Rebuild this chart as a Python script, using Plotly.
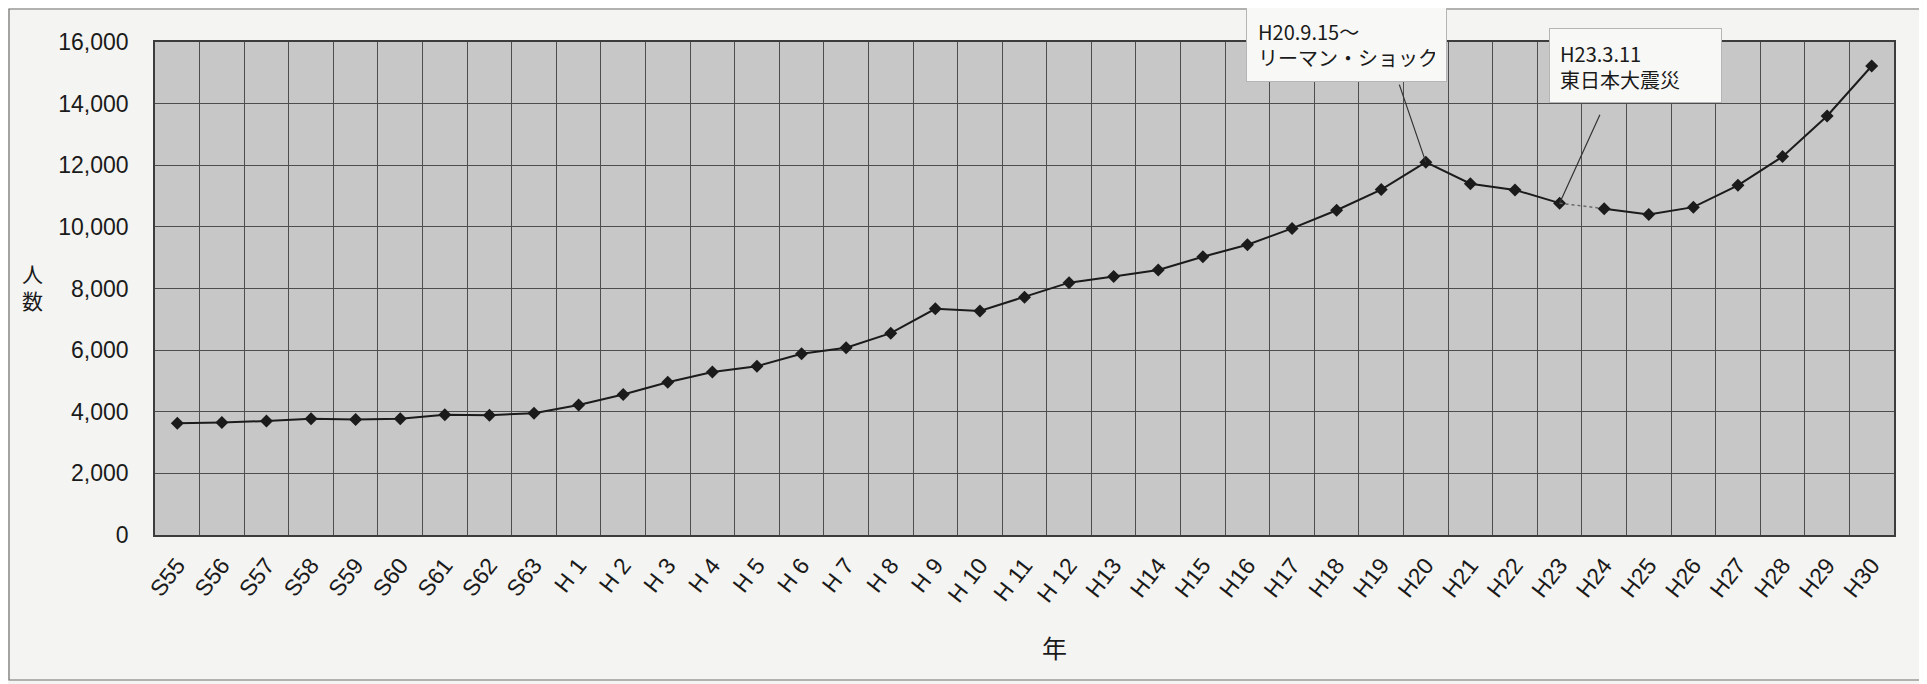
import plotly.graph_objects as go

# ---- data ----
categories = ["S55", "S56", "S57", "S58", "S59", "S60", "S61", "S62", "S63",
              "H 1", "H 2", "H 3", "H 4", "H 5", "H 6", "H 7", "H 8", "H 9",
              "H 10", "H 11", "H 12", "H13", "H14", "H15", "H16", "H17", "H18",
              "H19", "H20", "H21", "H22", "H23", "H24", "H25", "H26", "H27",
              "H28", "H29", "H30"]
counts = [3630, 3650, 3700, 3770, 3750, 3770, 3900, 3890, 3950,
          4220, 4560, 4960, 5290, 5480, 5880, 6080, 6550, 7340,
          7270, 7720, 8190, 8390, 8600, 9030, 9420, 9950, 10540,
          11210, 12100, 11400, 11200, 10770, 10590, 10400, 10640, 11350,
          12280, 13600, 15220]
y_ticks = [0, 2000, 4000, 6000, 8000, 10000, 12000, 14000, 16000]
event_lehman_year = "H20"
event_lehman_text = "H20.9.15～<br>リーマン・ショック"
event_quake_year = "H23"
event_quake_text = "H23.3.11<br>東日本大震災"
x_title = "年"
y_title = "人<br>数"

# ---- figure ----
i_q = categories.index(event_quake_year)
i_l = categories.index(event_lehman_year)

OFF = 8  # default page body margin
L, T, PW, PH = 155 - OFF, 42 - OFF, 1739, 493

line_col = "#1b1b1b"
fig = go.Figure()
fig.add_trace(go.Scatter(
    x=categories[:i_q + 1], y=counts[:i_q + 1], mode="lines+markers",
    line=dict(color=line_col, width=2),
    marker=dict(symbol="diamond", size=10, color=line_col),
    showlegend=False))
fig.add_trace(go.Scatter(
    x=categories[i_q:i_q + 2], y=counts[i_q:i_q + 2], mode="lines",
    line=dict(color="#6a6a6a", width=1.5, dash="dot"),
    showlegend=False))
fig.add_trace(go.Scatter(
    x=categories[i_q + 1:], y=counts[i_q + 1:], mode="lines+markers",
    line=dict(color=line_col, width=2),
    marker=dict(symbol="diamond", size=10, color=line_col),
    showlegend=False))

tick_font = dict(family="Liberation Sans, Arial, sans-serif", size=23, color="#1a1a1a")
cjk = "Noto Sans CJK JP, sans-serif"

W, H = 1927 - OFF, 684 - OFF
fig.update_layout(
    width=W, height=H, autosize=False,
    margin=dict(l=L, r=W - L - PW, t=T, b=H - T - PH),
    paper_bgcolor="#f4f4f2", plot_bgcolor="#c7c7c7",
    xaxis=dict(
        type="category", categoryorder="array", categoryarray=categories,
        range=[-0.5, len(categories) - 0.5],
        tickson="boundaries", ticks="", showgrid=True,
        gridcolor="#4d4d4d", gridwidth=1.2,
        showline=True, linecolor="#3c3c3c", linewidth=1.5, mirror=True,
        tickangle=-52, tickfont=dict(family="Liberation Sans, Arial, sans-serif", size=23, color="#1a1a1a"),
        ticklabelstandoff=6, zeroline=False),
    yaxis=dict(
        range=[0, 16000], tickvals=y_ticks, tickformat=",d", ticks="",
        showgrid=True, gridcolor="#4d4d4d", gridwidth=1.2,
        showline=True, linecolor="#3c3c3c", linewidth=1.5, mirror=True,
        tickfont=tick_font, ticklabelstandoff=20, zeroline=False),
    font=dict(family=cjk),
)

def px(xp):
    return (xp - OFF - L) / PW

def py(yp):
    return (T + PH - (yp - OFF)) / PH

# outer frame
fig.add_shape(type="rect", xref="paper", yref="paper",
              x0=px(9), x1=px(1925), y0=py(680), y1=py(9),
              line=dict(color="#6e6e6e", width=1.2), fillcolor="rgba(0,0,0,0)", layer="below")

# axis titles
fig.add_annotation(text=x_title, xref="paper", yref="paper", x=px(1054), y=py(647),
                   xanchor="center", yanchor="middle",
                   showarrow=False, font=dict(family=cjk, size=25, color="#1a1a1a"))
fig.add_annotation(text=y_title, xref="paper", yref="paper", x=px(33), y=py(286),
                   xanchor="center", yanchor="middle",
                   showarrow=False, font=dict(family=cjk, size=21, color="#1a1a1a"))

# event callouts: pointer lines
fig.add_annotation(x=categories[i_l], y=counts[i_l], text="", showarrow=True,
                   arrowhead=0, arrowwidth=1.2, arrowcolor="#333333",
                   ax=-27, ay=-79, standoff=0)
fig.add_annotation(x=categories[i_q], y=counts[i_q], text="", showarrow=True,
                   arrowhead=0, arrowwidth=1.2, arrowcolor="#333333",
                   ax=41, ay=-90, standoff=0)

# event callouts: text boxes
box_font = dict(family=cjk, size=20, color="#1a1a1a")
fig.add_annotation(text=event_lehman_text, xref="paper", yref="paper",
                   x=px(1246), y=py(6),
                   xanchor="left", yanchor="top", showarrow=False,
                   align="left", valign="middle", width=177, height=52,
                   borderpad=11, bgcolor="#f8f8f6", bordercolor="#b5b5b5",
                   borderwidth=1, font=box_font)
fig.add_annotation(text=event_quake_text, xref="paper", yref="paper",
                   x=px(1549), y=py(28),
                   xanchor="left", yanchor="top", showarrow=False,
                   align="left", valign="top", width=151, height=53,
                   borderpad=10, bgcolor="#f8f8f6", bordercolor="#b5b5b5",
                   borderwidth=1, font=box_font)

fig.write_html("out.html")
